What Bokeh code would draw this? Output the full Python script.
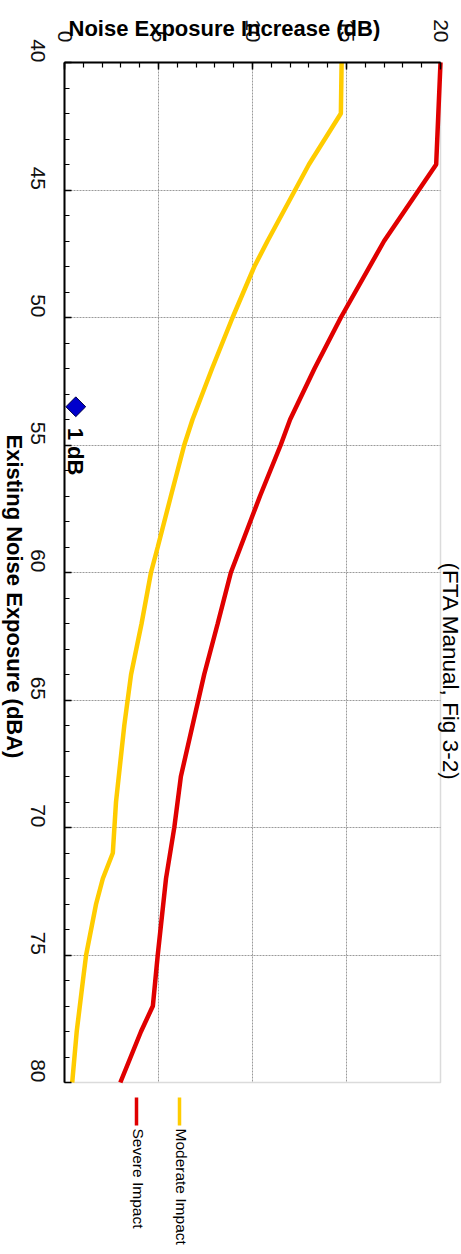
import math
from bokeh.plotting import figure
from bokeh.models import Range1d, SingleIntervalTicker, FixedTicker, Label, LinearAxis, Grid, BoxAnnotation
from bokeh.core.properties import value
from bokeh.embed import file_html
from bokeh.resources import INLINE

# ---------------- data ----------------
existing_severe = [40, 44, 47, 50, 52, 54, 55, 57, 60, 62, 64, 68, 70, 72, 75, 77, 78, 80]
severe_increase = [20.0, 19.77, 17.0, 14.7, 13.3, 12.0, 11.5, 10.4, 8.85, 8.15, 7.43, 6.19, 5.84, 5.4, 4.96, 4.7, 4.07, 2.97]

existing_moderate = [40, 42, 44, 47, 48, 50, 52, 54, 55, 57, 59, 60, 62, 64, 66, 69, 71, 72, 73, 75, 76, 78, 80]
moderate_increase = [14.74, 14.7, 13.0, 10.8, 10.1, 8.94, 7.85, 6.81, 6.37, 5.66, 4.96, 4.6, 4.1, 3.54, 3.18, 2.74, 2.57, 2.04, 1.68, 1.15, 0.98, 0.65, 0.41]

point_existing = [53.5]
point_increase = [0.6]
point_label = ["1 dB"]

series_names = ["Severe Impact", "Moderate Impact"]
x_title = "Noise Exposure Increase (dB)"
y_title = "Existing Noise Exposure (dBA)"
source_note = "(FTA Manual, Fig 3-2)"
x_bounds = (0, 20)
y_bounds = (40, 80)
grid_x = [5, 10, 15]
grid_y = [45, 50, 55, 60, 65, 70, 75]

RED = "#E00000"
YELLOW = "#FFCC00"
FONT = "Liberation Sans"
W, H = 461, 1254

# page pixel -> data helpers (plot box: x 64..440 px = 0..20 dB, y 62..1082 px = 40..80 dBA)
def dx(px):
    return (px - 64.0) / 18.8

def dy(py):
    return 40 + (py - 62.0) / 25.5

# ---------------- figure ----------------
p = figure(
    width=W, height=H, min_border=0,
    x_range=Range1d(dx(0), dx(W)), y_range=Range1d(dy(H), dy(0)),
    x_axis_type=None, y_axis_type=None,
    output_backend="svg", toolbar_location=None,
)
p.background_fill_color = "white"
p.border_fill_color = "white"
p.outline_line_color = None

# plot box border (right / bottom visible in grey)
p.add_layout(BoxAnnotation(left=x_bounds[0], right=x_bounds[1], top=y_bounds[0], bottom=y_bounds[1],
                           fill_alpha=0, line_color="#888888", line_width=1.5, level="underlay"))

# grids
has_cross = "cross_bounds" in Grid.properties()
if has_cross:
    gx = Grid(dimension=0, ticker=FixedTicker(ticks=grid_x), cross_bounds=y_bounds)
    gy = Grid(dimension=1, ticker=FixedTicker(ticks=grid_y), cross_bounds=x_bounds)
    for g in (gx, gy):
        g.grid_line_color = "#9a9a9a"
        g.grid_line_dash = "2 1"
        g.grid_line_width = 1
        p.add_layout(g)
else:
    p.segment(x0=grid_x, y0=[y_bounds[0]] * len(grid_x), x1=grid_x, y1=[y_bounds[1]] * len(grid_x),
              line_color="#9a9a9a", line_dash="2 1", line_width=1)
    p.segment(x0=[x_bounds[0]] * len(grid_y), y0=grid_y, x1=[x_bounds[1]] * len(grid_y), y1=grid_y,
              line_color="#9a9a9a", line_dash="2 1", line_width=1)

# axes at fixed locations on the box edges
xaxis = LinearAxis(fixed_location=y_bounds[0], bounds=x_bounds,
                   ticker=SingleIntervalTicker(interval=5, num_minor_ticks=5))
yaxis = LinearAxis(fixed_location=x_bounds[0], bounds=y_bounds,
                   ticker=SingleIntervalTicker(interval=5, num_minor_ticks=5))
for ax in (xaxis, yaxis):
    ax.axis_line_color = "black"
    ax.axis_line_width = 2
    ax.major_tick_in = 7
    ax.major_tick_out = 0
    ax.minor_tick_in = 5
    ax.minor_tick_out = 0
    ax.major_tick_line_color = "black"
    ax.minor_tick_line_color = "black"
    ax.major_tick_line_width = 1.5
    ax.minor_tick_line_width = 1.2
    ax.major_label_text_font = FONT
    ax.major_label_text_font_size = "21px"
    ax.major_label_text_color = "#111111"
    ax.major_label_orientation = -math.pi / 2
xaxis.major_label_standoff = 20
yaxis.major_label_standoff = 27
p.add_layout(xaxis, "above")
p.add_layout(yaxis, "left")

# curves
p.line(moderate_increase, existing_moderate, line_color=YELLOW, line_width=4.5)
p.line(severe_increase, existing_severe, line_color=RED, line_width=4.5)

# marked point
p.scatter(point_increase, point_existing, marker="square", angle=math.pi / 4, size=14,
          fill_color="#0000CC", line_color="#000044", line_width=1)
p.text(point_increase, point_existing, text=point_label, angle=-math.pi / 2,
       y_offset=21, x_offset=0, text_align="left", text_baseline="middle",
       text_font=value(FONT), text_font_style="bold", text_font_size="22px", text_color="black")

# titles
p.add_layout(Label(x=dx(68), y=dy(28), text=x_title,
                   text_font=FONT, text_font_style="bold", text_font_size="22px",
                   text_align="left", text_baseline="alphabetic", text_color="black"))
p.add_layout(Label(x=dx(14), y=dy(434), text=y_title, angle=-math.pi / 2,
                   text_font=FONT, text_font_style="bold", text_font_size="22px",
                   text_align="left", text_baseline="middle", text_color="black"))
p.add_layout(Label(x=dx(449.5), y=dy(562), text=source_note, angle=-math.pi / 2,
                   text_font=FONT, text_font_size="22.5px",
                   text_align="left", text_baseline="middle", text_color="black"))

# manual legend (rotated)
leg_x = [136, 179]
leg_colors = [RED, YELLOW]
p.segment(x0=[dx(v) for v in leg_x], y0=[dy(1097)] * 2, x1=[dx(v) for v in leg_x], y1=[dy(1125)] * 2,
          line_color=leg_colors, line_width=3.5)
for name, lx in zip(series_names, leg_x):
    p.add_layout(Label(x=dx(lx + 1.5), y=dy(1128), text=name, angle=-math.pi / 2,
                       text_font=FONT, text_font_size="15.5px",
                       text_align="left", text_baseline="middle", text_color="black"))

open("out.html", "w").write(file_html(p, INLINE))
